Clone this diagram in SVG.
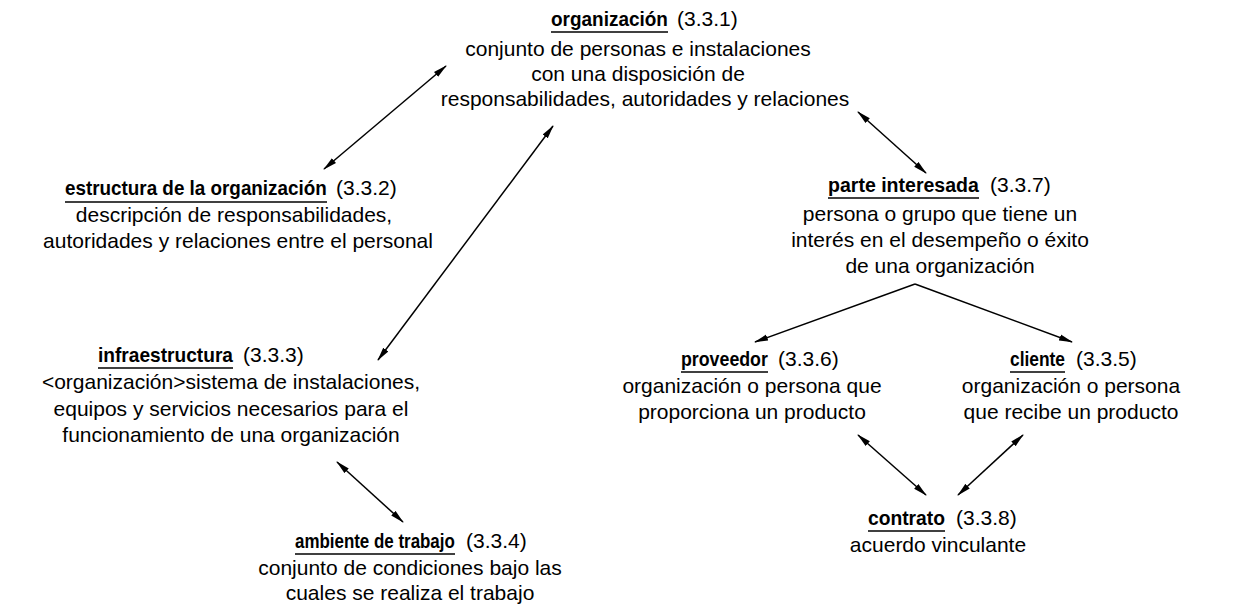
<svg xmlns="http://www.w3.org/2000/svg" width="1238" height="607" viewBox="0 0 1238 607">
<style>
text{font-family:"Liberation Sans",Arial,sans-serif;fill:#000}
.t{font-size:21px;font-weight:bold}
.n{font-size:21px}
.b{font-size:21px;text-anchor:middle}
.u{stroke:#000;stroke-width:1.5}
.c{stroke:#000;stroke-width:1.5;fill:none}
</style>
<defs>
<marker id="ah" markerUnits="userSpaceOnUse" markerWidth="14" markerHeight="8" refX="13" refY="4" orient="auto-start-reverse">
<path d="M0,0.8 L14,4 L0,7.2 z" fill="#000"/>
</marker>
</defs>
<rect width="1238" height="607" fill="#fff"/>
<g id="connectors">
<line class="c" x1="446" y1="66" x2="324" y2="169" marker-start="url(#ah)" marker-end="url(#ah)"/>
<line class="c" x1="553" y1="126" x2="378" y2="360" marker-start="url(#ah)" marker-end="url(#ah)"/>
<line class="c" x1="858" y1="112" x2="926" y2="173" marker-start="url(#ah)" marker-end="url(#ah)"/>
<polyline class="c" points="755,342 915,284" marker-start="url(#ah)"/>
<polyline class="c" points="915,284 1072,342" marker-end="url(#ah)"/>
<line class="c" x1="337" y1="462" x2="403" y2="522" marker-start="url(#ah)" marker-end="url(#ah)"/>
<line class="c" x1="858" y1="435" x2="926" y2="495" marker-start="url(#ah)" marker-end="url(#ah)"/>
<line class="c" x1="1023" y1="435" x2="958" y2="495" marker-start="url(#ah)" marker-end="url(#ah)"/>
</g>
<g id="organizacion">
<text class="t" transform="translate(551,26) scale(0.903,1)">organización</text>
<line class="u" x1="551" y1="32" x2="668" y2="32"/>
<text class="n" x="677" y="26">(3.3.1)</text>
<text class="b" x="638" y="56">conjunto de personas e instalaciones</text>
<text class="b" x="638" y="81">con una disposición de</text>
<text class="b" x="645" y="106">responsabilidades, autoridades y relaciones</text>
</g>
<g id="estructura">
<text class="t" transform="translate(65,195) scale(0.898,1)">estructura de la organización</text>
<line class="u" x1="65" y1="202" x2="327" y2="202"/>
<text class="n" x="336" y="195">(3.3.2)</text>
<text class="b" x="234" y="222">descripción de responsabilidades,</text>
<text class="b" x="238" y="248">autoridades y relaciones entre el personal</text>
</g>
<g id="parte-interesada">
<text class="t" transform="translate(828,192) scale(0.931,1)">parte interesada</text>
<line class="u" x1="828" y1="198" x2="979" y2="198"/>
<text class="n" x="990" y="192">(3.3.7)</text>
<text class="b" x="940" y="221">persona o grupo que tiene un</text>
<text class="b" x="940" y="247">interés en el desempeño o éxito</text>
<text class="b" x="940" y="273">de una organización</text>
</g>
<g id="infraestructura">
<text class="t" transform="translate(98,362) scale(0.911,1)">infraestructura</text>
<line class="u" x1="98" y1="368" x2="233" y2="368"/>
<text class="n" x="243" y="362">(3.3.3)</text>
<text class="b" x="231" y="389">&lt;organización&gt;sistema de instalaciones,</text>
<text class="b" x="231" y="416">equipos y servicios necesarios para el</text>
<text class="b" x="231" y="442">funcionamiento de una organización</text>
</g>
<g id="ambiente">
<text class="t" transform="translate(295,548) scale(0.806,1)">ambiente de trabajo</text>
<line class="u" x1="295" y1="554" x2="455" y2="554"/>
<text class="n" x="466" y="548">(3.3.4)</text>
<text class="b" x="410" y="575">conjunto de condiciones bajo las</text>
<text class="b" x="410" y="600">cuales se realiza el trabajo</text>
</g>
<g id="proveedor">
<text class="t" transform="translate(681,366) scale(0.847,1)">proveedor</text>
<line class="u" x1="681" y1="372" x2="768" y2="372"/>
<text class="n" x="778" y="366">(3.3.6)</text>
<text class="b" x="752" y="393">organización o persona que</text>
<text class="b" x="752" y="419">proporciona un producto</text>
</g>
<g id="cliente">
<text class="t" transform="translate(1010,366) scale(0.827,1)">cliente</text>
<line class="u" x1="1010" y1="372" x2="1065" y2="372"/>
<text class="n" x="1076" y="366">(3.3.5)</text>
<text class="b" x="1071" y="393">organización o persona</text>
<text class="b" x="1071" y="419">que recibe un producto</text>
</g>
<g id="contrato">
<text class="t" transform="translate(868,525) scale(0.917,1)">contrato</text>
<line class="u" x1="868" y1="531" x2="945" y2="531"/>
<text class="n" x="956" y="525">(3.3.8)</text>
<text class="b" x="938" y="552">acuerdo vinculante</text>
</g>
</svg>
